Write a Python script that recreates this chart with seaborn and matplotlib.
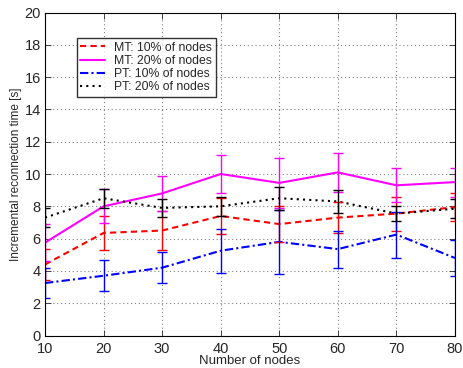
import matplotlib
matplotlib.use("Agg")
import matplotlib.pyplot as plt
import numpy as np
import pandas as pd
import seaborn as sns

nodes = [10, 20, 30, 40, 50, 60, 70, 80]

mt10 = [4.4, 6.35, 6.5, 7.4, 6.9, 7.3, 7.55, 7.95]
mt10_err = [0.95, 1.07, 1.2, 1.1, 1.1, 0.95, 1.05, 0.85]

mt20 = [5.75, 8.0, 8.8, 10.0, 9.45, 10.1, 9.3, 9.5]
mt20_err = [1.15, 1.05, 1.1, 1.2, 1.55, 1.2, 1.05, 0.9]

pt10 = [3.25, 3.7, 4.2, 5.25, 5.8, 5.35, 6.25, 4.8]
pt10_err = [0.95, 0.95, 0.95, 1.35, 2.0, 1.15, 1.42, 1.1]

pt20 = [7.3, 8.5, 7.9, 8.0, 8.5, 8.3, 7.55, 7.85]
pt20_err = [0.6, 0.6, 0.55, 0.58, 0.72, 0.7, 0.45, 0.58]

series = [
    ("MT: 10% of nodes", mt10, mt10_err, "red", (3, 2)),
    ("MT: 20% of nodes", mt20, mt20_err, "magenta", ""),
    ("PT: 10% of nodes", pt10, pt10_err, "blue", (4, 1.5, 1, 1.5)),
    ("PT: 20% of nodes", pt20, pt20_err, "black", (1, 2)),
]

sns.set_style("white")
plt.rcParams['font.family'] = ['Liberation Sans', 'DejaVu Sans']

fig = plt.figure(figsize=(4.63, 3.68), dpi=100)
ax = fig.add_axes([0.0972, 0.0883, 0.8855, 0.8777])

frames = []
for name, vals, errs, color, dash in series:
    frames.append(pd.DataFrame({"nodes": nodes, "time": vals, "series": name}))
df = pd.concat(frames)

names = [s[0] for s in series]
palette = {s[0]: s[3] for s in series}
dashes = {s[0]: s[4] for s in series}
sns.lineplot(data=df, x="nodes", y="time", hue="series", style="series",
             palette=palette, dashes=dashes, hue_order=names, style_order=names,
             linewidth=1.5, ax=ax)

for name, vals, errs, color, dash in series:
    ax.errorbar(nodes, vals, yerr=errs, fmt="none", ecolor=color,
                elinewidth=1.0, capsize=3.5, capthick=1.0)

ax.set_xlim(10, 80)
ax.set_ylim(0, 20)
ax.set_xticks(nodes)
ax.set_yticks(np.arange(0, 21, 2))
ax.grid(True, color="#808080", linestyle=(0, (1, 2.5)), linewidth=0.8)
ax.tick_params(direction="in", labelsize=10.5, length=4, width=0.6,
               top=True, right=True, bottom=True, left=True)
ax.tick_params(axis="x", pad=5)
ax.tick_params(axis="y", pad=3)
for sp in ax.spines.values():
    sp.set_color("black")
    sp.set_linewidth(0.8)
ax.set_xlabel("Number of nodes", fontsize=9.5, labelpad=-1)
ax.set_ylabel("Incremental reconnection time [s]", fontsize=8.5, labelpad=2)

leg = ax.legend(loc="upper left", bbox_to_anchor=(0.062, 0.94), fontsize=8.8,
                frameon=True, fancybox=False, edgecolor="black",
                handlelength=2.0, borderpad=0.3, labelspacing=0.1)
leg.get_frame().set_linewidth(1.0)

fig.savefig("out.png", dpi=100)
